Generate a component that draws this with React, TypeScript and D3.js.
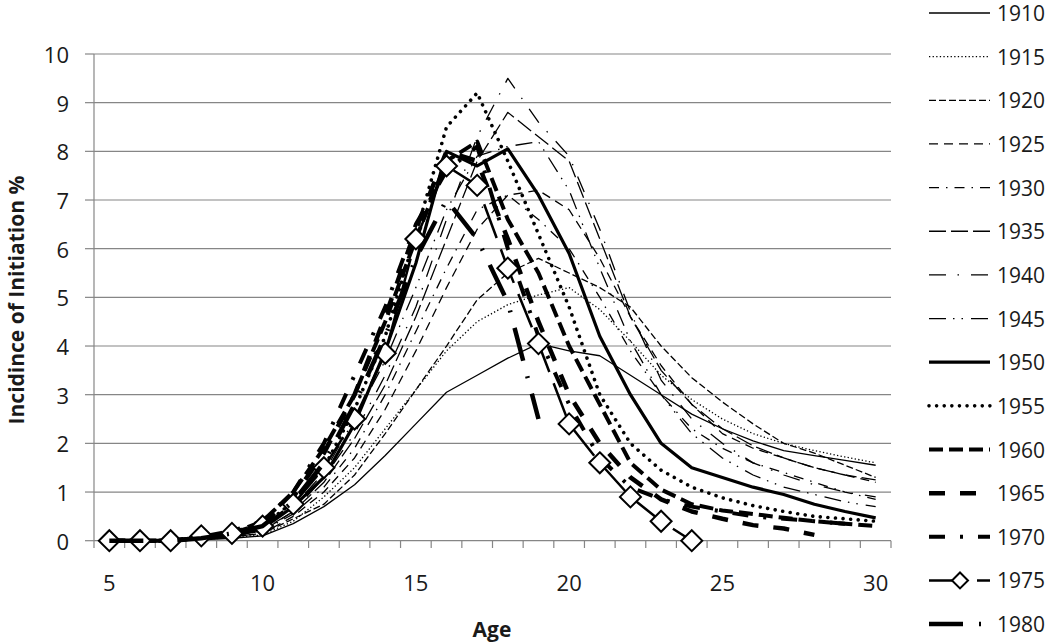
import React from 'react'
import * as d3 from 'd3'

const ages = d3.range(5, 31)
const yTicks = d3.range(0, 11)
const xTickLabels = [5, 10, 15, 20, 25, 30]

const s1910 = [0, 0, 0, 0.02, 0.05, 0.1, 0.35, 0.7, 1.15, 1.75, 2.4, 3.05, 3.4, 3.75, 4.05, 3.9, 3.8, 3.4, 3.0, 2.6, 2.3, 2.05, 1.85, 1.75, 1.65, 1.55]
const s1915 = [0, 0, 0, 0.03, 0.06, 0.12, 0.4, 0.9, 1.5, 2.3, 3.1, 3.9, 4.5, 4.85, 5.05, 5.2, 4.75, 4.1, 3.4, 2.9, 2.5, 2.2, 2.0, 1.85, 1.72, 1.6]
const s1920 = [0, 0, 0, 0.03, 0.08, 0.15, 0.45, 0.75, 1.35, 2.2, 3.1, 4.0, 4.95, 5.5, 5.8, 5.5, 5.2, 4.8, 4.0, 3.35, 2.85, 2.4, 2.0, 1.8, 1.55, 1.3]
const s1925 = [0, 0, 0, 0.03, 0.08, 0.15, 0.5, 1.0, 1.7, 2.7, 3.9, 5.2, 6.4, 7.1, 7.2, 6.8, 5.8, 4.6, 3.6, 2.8, 2.2, 1.9, 1.7, 1.5, 1.35, 1.2]
const s1930 = [0, 0, 0, 0.04, 0.1, 0.2, 0.55, 1.1, 1.9, 3.0, 4.3, 5.6, 6.8, 7.1, 6.6, 6.0, 5.0, 3.9, 3.0, 2.3, 1.9, 1.6, 1.4, 1.2, 1.0, 0.85]
const s1935 = [0, 0, 0, 0.04, 0.1, 0.2, 0.6, 1.2, 2.1, 3.2, 4.6, 6.2, 7.8, 8.8, 8.3, 7.8, 6.2, 4.6, 3.5, 2.8, 2.3, 1.95, 1.7, 1.5, 1.35, 1.25]
const s1940 = [0, 0, 0, 0.04, 0.1, 0.22, 0.6, 1.3, 2.2, 3.4, 4.8, 6.6, 8.3, 9.5, 8.6, 7.9, 6.4, 4.7, 3.3, 2.5, 2.0, 1.6, 1.35, 1.15, 1.0, 0.9]
const s1945 = [0, 0, 0, 0.05, 0.1, 0.25, 0.7, 1.4, 2.5, 3.7, 5.2, 6.8, 7.9, 8.1, 8.2, 7.2, 5.6, 4.1, 3.0, 2.2, 1.7, 1.35, 1.1, 0.95, 0.8, 0.7]
const s1950 = [0, 0, 0, 0.05, 0.1, 0.25, 0.7, 1.3, 2.4, 3.9, 5.7, 8.0, 7.7, 8.05, 7.1, 5.9, 4.2, 3.0, 2.0, 1.5, 1.3, 1.1, 0.95, 0.75, 0.6, 0.47]
const s1955 = [0, 0, 0, 0.05, 0.1, 0.3, 0.8, 1.5, 2.7, 4.2, 6.3, 8.5, 9.2, 7.8, 6.3, 4.8, 3.0, 2.0, 1.45, 1.1, 0.88, 0.72, 0.6, 0.5, 0.45, 0.4]
const s1960 = [0, 0, 0, 0.08, 0.15, 0.4, 1.0, 1.9, 3.0, 4.5, 6.2, 7.8, 8.2, 6.6, 5.5, 4.0, 2.8, 1.6, 1.05, 0.75, 0.62, 0.55, 0.47, 0.4, 0.35, 0.3]
const s1965 = [0, 0, 0, 0.06, 0.15, 0.35, 0.9, 1.8, 3.0, 4.6, 6.4, 8.0, 7.8, 6.2, 4.5, 3.0, 2.0, 1.3, 0.85, 0.6, 0.45, 0.32, 0.25, 0.12]
const s1970 = [0, 0, 0, 0.08, 0.2, 0.4, 1.0, 2.0, 3.4, 4.8, 6.5, 7.6, 8.1, 6.0, 4.2, 2.8, 1.7, 1.1, 0.85, 0.7, 0.6, 0.5, 0.45, 0.4, 0.35]
const s1975 = [0, 0, 0, 0.1, 0.15, 0.3, 0.75, 1.5, 2.5, 3.85, 6.2, 7.7, 7.3, 5.6, 4.05, 2.4, 1.6, 0.9, 0.4, 0]
const s1980 = [0, 0, 0, 0.05, 0.15, 0.3, 0.8, 1.6, 2.8, 4.2, 5.8, 7.0, 6.2, 4.9, 2.5]

const series = [
  { name: '1910', values: s1910, width: 1.3, dash: '' },
  { name: '1915', values: s1915, width: 1.3, dash: '1.3,2.3' },
  { name: '1920', values: s1920, width: 1.3, dash: '7,3' },
  { name: '1925', values: s1925, width: 1.3, dash: '9,6' },
  { name: '1930', values: s1930, width: 1.3, dash: '10,7,1.5,7' },
  { name: '1935', values: s1935, width: 1.3, dash: '17,5' },
  { name: '1940', values: s1940, width: 1.3, dash: '17,11.5,1.5,12' },
  { name: '1945', values: s1945, width: 1.3, dash: '17,7,1.5,7,1.5,8' },
  { name: '1950', values: s1950, width: 3.2, dash: '' },
  { name: '1955', values: s1955, width: 3.6, dash: '0.01,7.6', cap: 'round' },
  { name: '1960', values: s1960, width: 4, dash: '14,6' },
  { name: '1965', values: s1965, width: 4.5, dash: '16,15' },
  { name: '1970', values: s1970, width: 4, dash: '16,15,3,15' },
  { name: '1975', values: s1975, width: 2.5, dash: '36,12', marker: true },
  { name: '1980', values: s1980, width: 4.5, dash: '34,16,2,16' },
]

const font = "'Open Sans', 'Noto Sans', sans-serif"
const grid = '#868686'
const ink = '#1a1a1a'

export default function App() {
  const x = d3.scaleBand<number>().domain(ages).range([94, 891]).paddingInner(0)
  const cx = (a: number) => (x(a) || 0) + x.bandwidth() / 2
  const y = d3.scaleLinear().domain([0, 10]).range([540.7, 54])
  const line = d3.line<number>().x((_, i) => cx(ages[i])).y(v => y(v))

  const legendY = (i: number) => 13 + i * 43.65
  const diamond = (px: number, py: number, r: number) =>
    `M${px},${py - r}L${px + r},${py}L${px},${py + r}L${px - r},${py}Z`

  return (
    <svg width={1050} height={644} style={{ position: 'absolute', left: 0, top: 0, background: '#fff' }} fontFamily={font}>
      {/* gridlines */}
      {yTicks.map(t => (
        <g key={t}>
          {t > 0 && <line x1={94} x2={891} y1={y(t)} y2={y(t)} stroke={grid} strokeWidth={1.2} />}
          <line x1={85} x2={94} y1={y(t)} y2={y(t)} stroke={grid} strokeWidth={1.2} />
          <text x={69} y={y(t)} textAnchor="end" dominantBaseline="central" fontSize={22} fill={ink}>{t}</text>
        </g>
      ))}
      <line x1={94} x2={94} y1={54} y2={540.7} stroke={grid} strokeWidth={1.2} />
      <line x1={94} x2={891} y1={540.7} y2={540.7} stroke={grid} strokeWidth={1.2} />
      {d3.range(0, ages.length + 1).map(k => {
        const px = 94 + k * x.bandwidth()
        return <line key={k} x1={px} x2={px} y1={540.7} y2={548} stroke={grid} strokeWidth={1.2} />
      })}
      {xTickLabels.map(a => (
        <text key={a} x={cx(a)} y={582} textAnchor="middle" dominantBaseline="central" fontSize={22} fill={ink}>{a}</text>
      ))}

      {/* series */}
      {series.map(s => (
        <g key={s.name}>
          <path d={line(s.values) || ''} fill="none" stroke="#000" strokeWidth={s.width}
            strokeDasharray={s.dash || undefined} strokeLinecap={(s.cap as any) || 'butt'} strokeLinejoin="round" />
          {s.marker && s.values.map((v, i) => (
            <path key={i} d={diamond(cx(ages[i]), y(v), 10.5)} fill="#fff" stroke="#000" strokeWidth={2} />
          ))}
        </g>
      ))}

      {/* axis titles */}
      <text x={492} y={629} textAnchor="middle" dominantBaseline="central" fontSize={21} fontWeight="bold" fill={ink}>Age</text>
      <text transform={`translate(16,300) rotate(-90)`} textAnchor="middle" dominantBaseline="central" fontSize={21} fontWeight="bold" fill={ink}>Incidince of Initiation %</text>

      {/* legend */}
      {series.map((s, i) => (
        <g key={s.name}>
          <line x1={929} x2={990} y1={legendY(i)} y2={legendY(i)} stroke="#000" strokeWidth={s.width}
            strokeDasharray={s.dash || undefined} strokeLinecap={(s.cap as any) || 'butt'} />
          {s.marker && <path d={diamond(960, legendY(i), 8)} fill="#fff" stroke="#000" strokeWidth={2} />}
          <text x={997} y={legendY(i)} dominantBaseline="central" fontSize={21} fill={ink}>{s.name}</text>
        </g>
      ))}
    </svg>
  )
}
